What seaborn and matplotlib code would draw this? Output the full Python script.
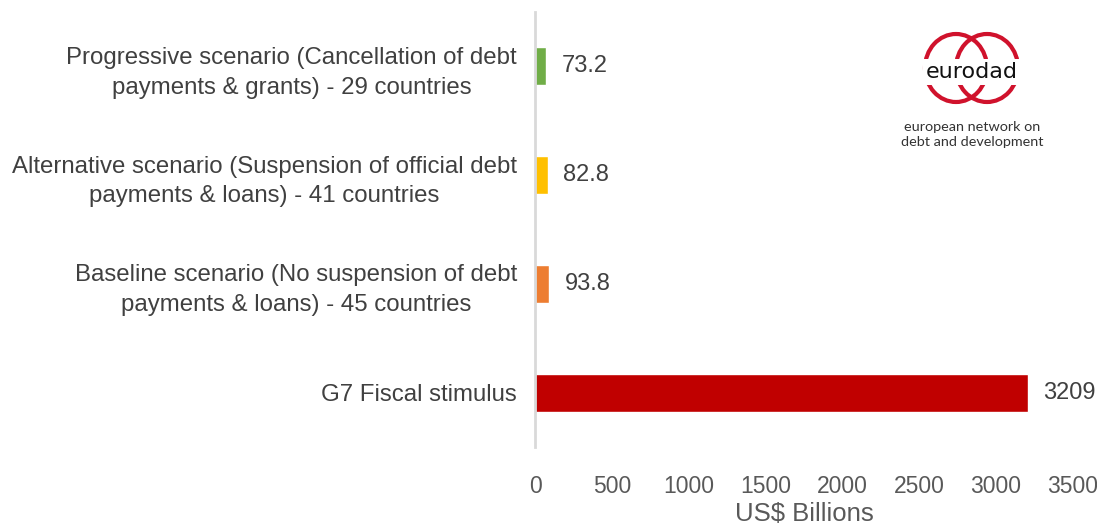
import matplotlib
matplotlib.use("Agg")
import matplotlib.pyplot as plt
import seaborn as sns
import pandas as pd
from matplotlib.patches import Ellipse

# --- chart data ---
categories = [
    "Progressive scenario (Cancellation of debt\npayments & grants) - 29 countries",
    "Alternative scenario (Suspension of official debt\npayments & loans) - 41 countries",
    "Baseline scenario (No suspension of debt\npayments & loans) - 45 countries",
    "G7 Fiscal stimulus",
]
values = [73.2, 82.8, 93.8, 3209]
value_labels = ["73.2", "82.8", "93.8", "3209"]
bar_colors = ["#70AD47", "#FFC000", "#ED7D31", "#C00000"]
x_ticks = [0, 500, 1000, 1500, 2000, 2500, 3000, 3500]

sns.set_theme(style="white")
plt.rcParams["font.family"] = ["Liberation Sans", "DejaVu Sans"]

df = pd.DataFrame({"category": categories, "value": values})

fig = plt.figure(figsize=(10.97, 5.27), dpi=100)
ax = fig.add_axes([0.4877, 0.152, 0.978 - 0.4877, 0.977 - 0.152])

sns.barplot(data=df, x="value", y="category", hue="category", order=categories,
            palette=bar_colors, saturation=1, legend=False, width=0.35, ax=ax, orient="h")

for container, lab in zip(ax.containers, value_labels):
    ax.bar_label(container, labels=[lab], padding=11, fontsize=17, color="#404040")

ax.set_xlim(0, 3500)
ax.set_ylim(3.5, -0.5)
ax.set_xticks(x_ticks)
ax.set_xticklabels([str(t) for t in x_ticks], fontsize=16.5, color="#595959")
ax.tick_params(axis="x", length=0, pad=20)
ax.tick_params(axis="y", length=0, pad=13)
for t in ax.get_yticklabels():
    t.set_fontsize(17.3)
    t.set_color("#404040")
    t.set_multialignment("center")
    t.set_linespacing(1.45)

ax.set_ylabel("")
ax.set_xlabel("US$ Billions", fontsize=18.5, color="#595959", labelpad=3)

for side in ["top", "right", "bottom"]:
    ax.spines[side].set_visible(False)
ax.spines["left"].set_color("#D9D9D9")
ax.spines["left"].set_linewidth(2)

# --- eurodad logo (pixel-coordinate inset) ---
lx0, ly0, lw, lh = 890, 20, 170, 140
lax = fig.add_axes([lx0 / 1097, 1 - (ly0 + lh) / 527, lw / 1097, lh / 527])
lax.set_xlim(0, lw)
lax.set_ylim(lh, 0)
lax.axis("off")
red = "#D0122C"
for cx in (66, 97):
    lax.add_patch(Ellipse((cx, 48), 62, 68, fill=False, edgecolor=red, linewidth=3))
lax.text(82, 52, "eurodad", ha="center", va="center", fontsize=16, color="#111111",
         family="DejaVu Sans",
         bbox=dict(facecolor="white", edgecolor="none", pad=2))
lax.text(82, 107, "european network on", ha="center", va="center", fontsize=10.4,
         color="#333333", family=["Lato", "DejaVu Sans"])
lax.text(82, 122, "debt and development", ha="center", va="center", fontsize=10.4,
         color="#333333", family=["Lato", "DejaVu Sans"])

fig.savefig("out.png", dpi=100)
